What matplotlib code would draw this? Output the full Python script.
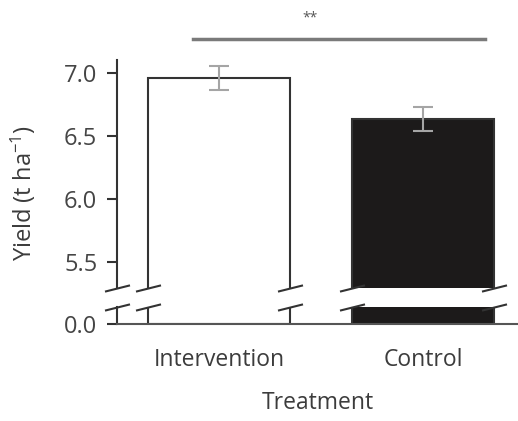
import numpy as np
import matplotlib
matplotlib.use('Agg')
import matplotlib.pyplot as plt
from matplotlib.path import Path
import matplotlib.transforms as mtrans

plt.rcParams['font.family'] = ['Open Sans', 'DejaVu Sans']
plt.rcParams['mathtext.default'] = 'regular'

# data
groups = ['Intervention', 'Control']
yields = [6.96, 6.635]
errs   = [0.095, 0.095]
yticks = [5.5, 6.0, 6.5, 7.0]

x     = np.arange(len(groups))
width = 0.7
dark  = '#333333'
txt   = '#3c3c3c'

fig = plt.figure(figsize=(5.18, 4.21), dpi=100)
ax1 = fig.add_axes([0.2259, 0.3159, 0.7741, 0.5416])   # upper part
ax2 = fig.add_axes([0.2259, 0.2304, 0.7741, 0.0404])   # lower part (0)

for ax in (ax1, ax2):
    ax.bar(x, yields, width, color=['white', '#1c1a1a'], edgecolor=dark, linewidth=1.5)
    ax.set_xlim(-0.5, 1.466)
    for s in ['top', 'right']:
        ax.spines[s].set_visible(False)
    ax.spines['left'].set_color(dark)
    ax.spines['left'].set_linewidth(1.5)
    ax.tick_params(axis='y', length=7.2, width=1.5, color=dark, pad=7,
                   labelsize=17, labelcolor='#454545')

ax1.errorbar(x, yields, yerr=errs, fmt='none', ecolor='#a5a5a5',
             elinewidth=1.5, capsize=7.5, capthick=1.5)
ax1.set_ylim(5.294, 7.103)
ax1.set_yticks(yticks)
ax1.set_yticklabels(['%.1f' % v for v in yticks])
ax1.spines['bottom'].set_visible(False)
ax1.set_xticks([])

ax2.set_ylim(0, 0.1)
ax2.set_yticks([0])
ax2.set_yticklabels(['0.0'])
ax2.spines['bottom'].set_color('#555555')
ax2.spines['bottom'].set_linewidth(1.5)
ax2.set_xticks(x)
ax2.set_xticklabels(groups)
ax2.tick_params(axis='x', length=0, pad=17, labelsize=16.5, labelcolor=txt)
ax2.set_xlabel('Treatment', fontsize=16.5, color=txt, labelpad=14)

fig.text(0.045, 0.542, 'Yield (t ha$^{-1}$)', rotation=90, ha='center',
         va='center', fontsize=17, color=txt)

# axis break marks on the spine and bar edges
slash = Path([(-1, -0.25), (1, 0.25)], [Path.MOVETO, Path.LINETO])
edges = np.concatenate([[-0.5], np.ravel([[c - width / 2, c + width / 2] for c in x])])
for ax, yy in ((ax1, 0), (ax2, 1)):
    tr = mtrans.blended_transform_factory(ax.transData, ax.transAxes)
    ax.plot(edges, np.full(len(edges), yy), ls='none', marker=slash,
            markersize=18, mew=1.5, color=dark, transform=tr, clip_on=False, zorder=5)

# significance bar
ax1.plot([-0.127, 1.304], [7.27, 7.27], color='#7a7a7a', lw=2.5, clip_on=False)
ax1.text(0.446, 7.44, '**', ha='center', va='center', fontsize=10, color='#555555')

fig.savefig('out.png', dpi=100)
